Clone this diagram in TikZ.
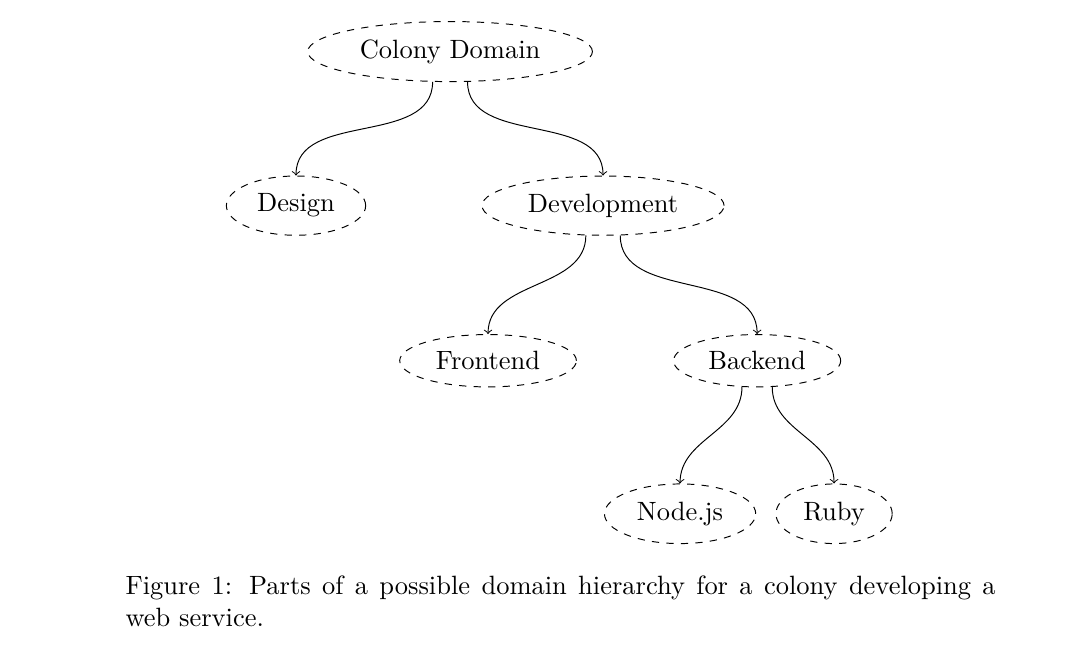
\documentclass[tikz,border=0pt]{standalone}
\usepackage{tikz}
\usetikzlibrary{shapes.geometric}
\tikzset{dombox/.style={ellipse, draw, dashed, inner xsep=4.3pt, inner ysep=3.8pt}}
\tikzset{arrow/.style={->}}
\tikzset{sub/.style={arrow, out=-90, in=90}}

\begin{document}
\begin{tikzpicture}[font=\fontsize{10.95}{13.6}\selectfont]
      \useasboundingbox (0, 0) rectangle (15.63, -9.42);

      \node[dombox] (colony) at (6.544, -0.75) {Colony Domain};
      \node[dombox] (design) at (4.304, -2.99) {Design};
      \node[dombox] (dev) at (8.768, -2.99) {Development};
      \node[dombox] (front) at (7.096, -5.245) {Frontend};
      \node[dombox] (back) at (11.008, -5.245) {Backend};
      \node[dombox] (node) at (9.888, -7.47) {Node.js};
      \node[dombox] (ruby) at (12.127, -7.47) {Ruby};

      \draw[sub] (colony.-120) to (design.north);
      \draw[sub] (colony.-60) to (dev.north);
      \draw[sub] (dev.-120) to (front.north);
      \draw[sub] (dev.-60) to (back.north);
      \draw[sub] (back.-120) to (node.north);
      \draw[sub] (back.-60) to (ruby.north);

      \node[anchor=north west, inner sep=0pt, text width=360pt, align=justify] (caption) at (1.818, -8.36)
        {Figure 1: Parts of a possible domain hierarchy for a colony developing a\linebreak web service.};
    \end{tikzpicture}
\end{document}
